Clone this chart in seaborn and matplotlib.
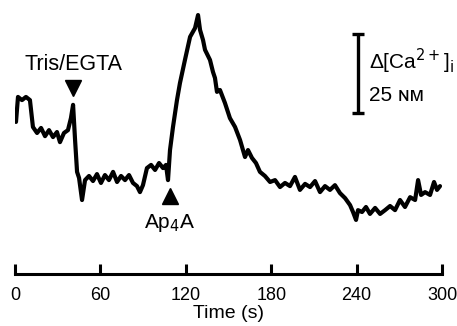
import numpy as np
import pandas as pd
import seaborn as sns
from matplotlib import pyplot as plt

# Trace: time (s) and Ca2+ change (nM, arbitrary zero)
tempo = [0.7, 2.1, 4.9, 7.7, 10.5, 12.6, 15.5, 18.3, 21.1, 23.9, 26.7, 29.5, 31.6, 34.4,
         37.2, 39.3, 40.8, 42.2, 43.6, 45.0, 47.1, 49.2, 52.0, 54.8, 57.6, 60.4, 63.2,
         66.0, 68.9, 71.7, 74.5, 77.3, 80.1, 82.9, 85.7, 87.8, 89.9, 92.7, 95.6, 98.4,
         101.2, 104.0, 106.1, 107.5, 108.9, 111.0, 113.8, 115.9, 119.4, 123.0, 126.5,
         128.6, 130.0, 132.1, 133.5, 137.0, 139.1, 140.5, 141.9, 144.0, 147.5, 151.0,
         154.6, 158.1, 161.6, 163.7, 166.5, 169.3, 172.1, 175.6, 179.2, 182.7, 186.2,
         189.7, 193.2, 196.7, 200.2, 203.8, 207.3, 210.8, 214.3, 217.8, 221.3, 224.8,
         228.3, 231.9, 235.4, 237.5, 239.6, 241.0, 243.8, 246.6, 249.4, 253.0, 256.5,
         260.0, 263.5, 267.0, 270.5, 274.0, 277.6, 281.1, 283.2, 285.3, 288.1, 291.6,
         294.4, 296.5, 298.6]
calcio = [34.2, 42.1, 41.1, 42.1, 41.1, 32.6, 30.7, 32.3, 29.7, 31.6, 29.4, 31.0, 27.8, 30.7,
          31.6, 35.4, 39.6, 28.5, 18.4, 16.5, 9.5, 15.8, 17.1, 15.5, 17.7, 14.9, 17.4,
          15.8, 18.4, 15.2, 17.1, 15.8, 17.4, 14.9, 13.9, 12.0, 14.2, 19.6, 20.6, 19.0,
          21.2, 19.6, 20.6, 15.8, 25.3, 32.6, 41.1, 46.5, 53.8, 61.1, 63.9,
          68.0, 63.3, 60.1, 57.0, 53.8, 50.0, 48.1, 43.7, 44.3, 40.2, 35.4,
          32.6, 28.5, 23.1, 25.3, 22.8, 21.2, 18.4, 17.1, 15.2, 15.8, 13.6,
          14.9, 13.9, 16.8, 12.7, 14.6, 13.6, 15.5, 12.0, 13.9, 12.7, 14.2,
          11.7, 10.1, 7.9, 5.7, 3.2, 6.3, 5.7, 7.3, 5.1, 7.0, 5.1,
          6.3, 7.6, 6.3, 9.5, 7.3, 10.4, 9.5, 15.8, 11.1, 12.0, 11.1,
          15.2, 12.7, 13.9]

# Marcas de adição (tempo, nível do centro da seta)
tris_t, tris_y = 41.0, 44.9
ap4a_t, ap4a_y = 108.9, 10.8

# Barra de escala (25 nM)
barra_t = 241
barra_base, barra_altura = 37.0, 25

ticks = [0, 60, 120, 180, 240, 300]

df = pd.DataFrame({'tempo': tempo, 'calcio': calcio})

sns.set_style('white')
plt.rcParams['font.family'] = ['Liberation Sans', 'DejaVu Sans']
plt.rcParams['text.color'] = 'black'
plt.rcParams['axes.labelcolor'] = 'black'

fig = plt.figure(figsize=(4.57, 3.26), dpi=100)
ax = fig.add_axes([15 / 457, 52 / 326, 427 / 457, 264 / 326])

sns.lineplot(data=df, x='tempo', y='calcio', color='black', linewidth=3.0, ax=ax)

# Setas
ax.plot(tris_t, tris_y, marker='v', color='black', markersize=11, clip_on=False)
ax.text(tris_t, tris_y + 7.6, 'Tris/EGTA', ha='center', va='center', fontsize=15.5)
ax.plot(ap4a_t, ap4a_y, marker='^', color='black', markersize=11, clip_on=False)
ax.text(ap4a_t, ap4a_y - 8.6, 'Ap$_4$A', ha='center', va='center', fontsize=15)

# Barra de escala
ax.errorbar(barra_t, barra_base + barra_altura / 2, yerr=barra_altura / 2, color='black',
            elinewidth=2.4, capsize=4.5, capthick=2.4, fmt='none')
ax.text(barra_t + 8, 53.2, 'Δ[Ca$^{2+}$]$_\\mathrm{i}$', ha='left', va='center', fontsize=15)
ax.text(barra_t + 8, 42.7, '25 ɴᴍ', ha='left', va='center', fontsize=15)

ax.set_xlim(0, 300)
ax.set_ylim(-13.9, 69.6)
ax.set_xticks(ticks)
ax.set_yticks([])
ax.set_xlabel('Time (s)', fontsize=14, labelpad=1)
ax.set_ylabel('')
for lado in ['left', 'right', 'top']:
    ax.spines[lado].set_visible(False)
ax.spines['bottom'].set_linewidth(2.2)
ax.spines['bottom'].set_color('black')
ax.tick_params(axis='x', bottom=True, direction='in', length=7, width=2.2,
               labelsize=13, pad=9, colors='black')

plt.savefig('out.png', dpi=100)
plt.close()
